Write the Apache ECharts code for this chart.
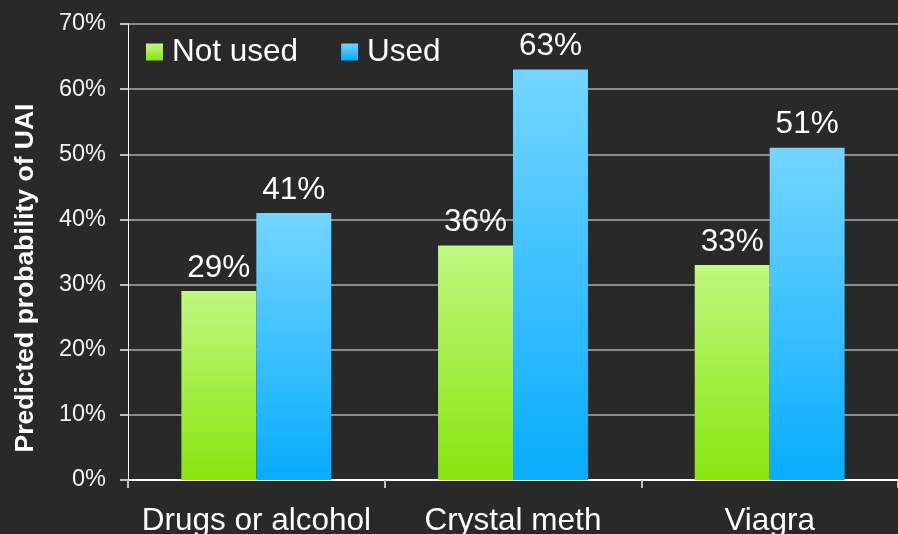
<!DOCTYPE html>
<html><head><meta charset="utf-8">
<script src="https://cdn.jsdelivr.net/npm/echarts@6/dist/echarts.min.js"></script>
<style>html,body{margin:0;padding:0;background:#292929;}#c{width:898px;height:534px;}</style>
</head><body><div id="c"></div>
<script>
const categories = ['Drugs or alcohol', 'Crystal meth', 'Viagra'];
const notUsed = [29, 36, 33];
const used = [41, 63, 51];
const seriesNames = ['Not used', 'Used'];

const chart = echarts.init(document.getElementById('c'), null, {renderer: 'canvas'});
const grad = (a, b) => new echarts.graphic.LinearGradient(0, 0, 0, 1, [{offset: 0, color: a}, {offset: 1, color: b}]);
const font = 'Liberation Sans, Arial, sans-serif';
const lbl = {show: true, position: 'top', distance: 7, color: '#ffffff', fontSize: 31.5, fontFamily: font, formatter: p => p.value + '%'};
chart.setOption({
  backgroundColor: '#292929',
  animation: false,
  grid: {left: 128, right: 0, top: 24, bottom: 54, containLabel: false, outerBoundsMode: 'none'},
  legend: {
    left: 141, top: 31, itemWidth: 17, itemHeight: 17, itemGap: 43,
    icon: 'rect',
    textStyle: {color: '#ffffff', fontSize: 31.5, fontFamily: font, padding: [0, 0, 0, 4]},
    data: seriesNames
  },
  xAxis: {
    type: 'category', data: categories,
    axisLine: {lineStyle: {color: '#ffffff', width: 2}},
    axisTick: {show: true, length: 8, lineStyle: {color: '#bfbfbf', width: 2}},
    axisLabel: {color: '#ffffff', fontSize: 31.5, fontFamily: font, margin: 25, interval: 0, hideOverlap: false}
  },
  yAxis: {
    type: 'value', min: 0, max: 70, interval: 10,
    name: 'Predicted probability of UAI', nameLocation: 'middle', nameGap: 89,
    nameTextStyle: {color: '#ffffff', fontSize: 26.5, fontWeight: 'bold', fontFamily: font, padding: [0, 52, 0, 0]},
    axisLine: {show: true, lineStyle: {color: '#ffffff', width: 1}},
    axisTick: {show: true, length: 8, lineStyle: {color: '#bfbfbf', width: 2}},
    axisLabel: {color: '#f2f2f2', fontSize: 23.5, fontFamily: font, margin: 22, formatter: '{value}%'},
    splitLine: {lineStyle: {color: '#8c8c8c', width: 2}}
  },
  series: [
    {name: seriesNames[0], type: 'bar', data: notUsed, barGap: '0%', barCategoryGap: '41.6%',
     itemStyle: {color: grad('#c0f880', '#88e40e')}, label: lbl},
    {name: seriesNames[1], type: 'bar', data: used,
     itemStyle: {color: grad('#73d5ff', '#07acfc')}, label: lbl}
  ]
});
</script></body></html>
